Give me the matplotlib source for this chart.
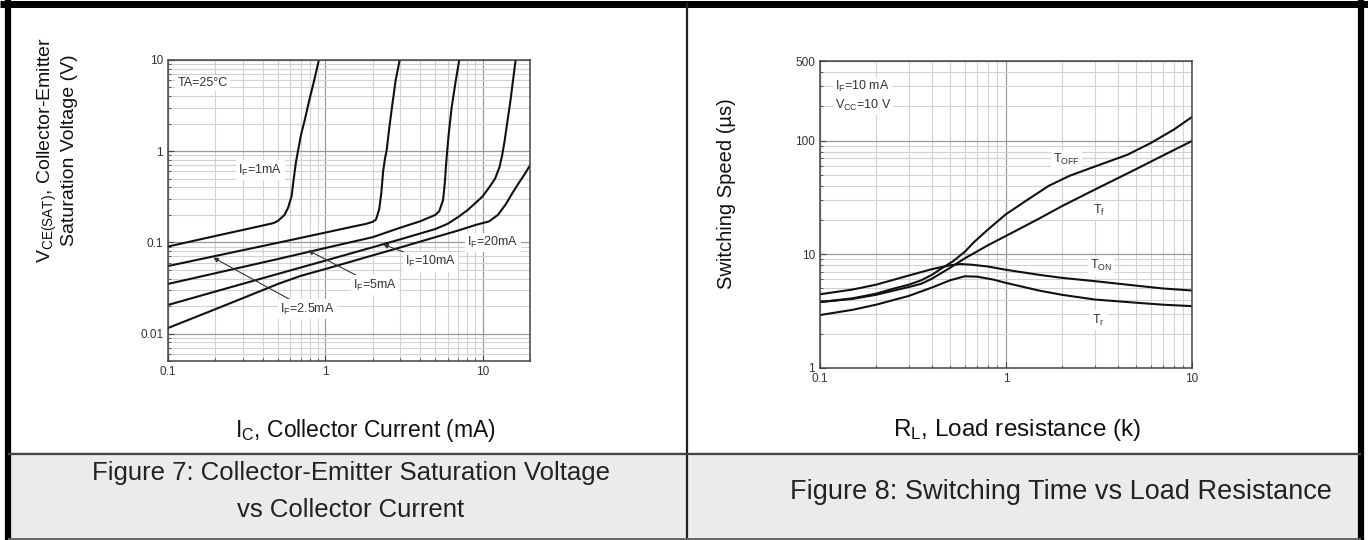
import matplotlib
matplotlib.use("Agg")
import matplotlib.pyplot as plt
from matplotlib.lines import Line2D
from matplotlib.patches import Rectangle
from matplotlib.ticker import LogLocator, NullFormatter, FixedLocator, FixedFormatter

plt.rcParams['font.family'] = ['Liberation Sans', 'DejaVu Sans']
plt.rcParams['mathtext.default'] = 'regular'

# ---- Figure 7: Vce(sat) vs Ic ----
ic_1 = [0.1, 0.2, 0.3, 0.4, 0.47, 0.5, 0.55, 0.58, 0.61, 0.63, 0.65, 0.67, 0.70, 0.74, 0.79, 0.85, 0.91]
vce_1 = [0.09, 0.1175, 0.137, 0.153, 0.163, 0.172, 0.2, 0.24, 0.32, 0.5, 0.75, 1.0, 1.5, 2.2, 3.6, 6.0, 10.0]

ic_25 = [0.1, 0.2, 0.5, 1.0, 1.5, 1.8, 2.0, 2.1, 2.2, 2.27, 2.33, 2.4, 2.45, 2.55, 2.65, 2.8, 2.97]
vce_25 = [0.055, 0.0709, 0.099, 0.128, 0.149, 0.159, 0.168, 0.178, 0.23, 0.35, 0.6, 0.85, 1.0, 1.8, 3.0, 6.0, 10.0]

ic_5 = [0.1, 0.2, 0.5, 1.0, 2.0, 3.0, 4.0, 5.0, 5.3, 5.6, 5.75, 5.85, 5.95, 6.1, 6.35, 6.7, 7.1]
vce_5 = [0.035, 0.0459, 0.0657, 0.0867, 0.114, 0.145, 0.17, 0.2, 0.22, 0.29, 0.45, 0.7, 1.0, 1.6, 3.0, 5.5, 10.0]

ic_10 = [0.1, 0.2, 0.5, 1.0, 2.0, 3.0, 4.0, 5.0, 6.0, 7.0, 8.0, 9.0, 10.0, 11.0, 12.0, 12.8, 13.3, 13.8, 14.3, 15.0, 15.6, 16.2]
vce_10 = [0.0206, 0.0289, 0.0451, 0.0631, 0.0884, 0.108, 0.125, 0.14, 0.16, 0.19, 0.225, 0.27, 0.32, 0.4, 0.5, 0.67, 0.9, 1.3, 2.0, 3.5, 6.0, 10.0]

ic_20 = [0.1, 0.2, 0.3, 0.5, 0.7, 1.0, 2.0, 3.0, 5.0, 7.0, 9.0, 11.0, 12.5, 14.0, 15.5, 17.0, 18.5, 20.0]
vce_20 = [0.0115, 0.0185, 0.0245, 0.035, 0.043, 0.051, 0.072, 0.088, 0.114, 0.135, 0.155, 0.17, 0.2, 0.26, 0.35, 0.45, 0.56, 0.70]

left_xticks = [0.1, 1, 10]
left_xlabels = ['0.1', '1', '10']
left_yticks = [0.01, 0.1, 1, 10]
left_ylabels = ['0.01', '0.1', '1', '10']

# ---- Figure 8: switching time vs RL ----
rl_off = [0.1, 0.15, 0.2, 0.25, 0.3, 0.35, 0.4, 0.45, 0.52, 0.6, 0.67, 0.8, 1.0, 1.3, 1.7, 2.2, 3.0, 4.5, 6.0, 8.0, 10.0]
t_off = [3.8, 4.1, 4.5, 5.0, 5.4, 5.9, 6.6, 7.5, 8.7, 10.5, 12.7, 16.5, 22.5, 30, 40, 49, 59, 75, 95, 125, 161]

rl_f = [0.1, 0.15, 0.2, 0.25, 0.3, 0.35, 0.4, 0.5, 0.6, 0.7, 0.8, 1.0, 1.5, 2.0, 3.0, 5.0, 7.0, 10.0]
t_f = [3.8, 4.05, 4.4, 4.8, 5.15, 5.5, 6.1, 7.6, 9.2, 10.6, 12.0, 14.5, 20.5, 26.5, 37, 56, 74, 99]

rl_on = [0.1, 0.15, 0.2, 0.3, 0.4, 0.5, 0.57, 0.65, 0.8, 1.0, 1.5, 2.0, 3.0, 5.0, 7.0, 10.0]
t_on = [4.45, 4.9, 5.4, 6.5, 7.4, 8.0, 8.2, 8.1, 7.8, 7.3, 6.6, 6.2, 5.8, 5.3, 5.0, 4.8]

rl_r = [0.1, 0.15, 0.2, 0.3, 0.4, 0.5, 0.6, 0.7, 0.85, 1.0, 1.5, 2.0, 3.0, 5.0, 7.0, 10.0]
t_r = [2.92, 3.25, 3.6, 4.3, 5.1, 5.9, 6.4, 6.35, 6.0, 5.6, 4.8, 4.4, 4.0, 3.75, 3.6, 3.5]

right_xticks = [0.1, 1, 10]
right_xlabels = ['0.1', '1', '10']
right_yticks = [1, 10, 100, 500]
right_ylabels = ['1', '10', '100', '500']

W, H = 1368, 540
fig = plt.figure(figsize=(W / 100, H / 100), dpi=100)

# table frame
fig.patches.append(Rectangle((8 / W, 2 / H), 1352 / W, (540 - 454) / H, transform=fig.transFigure,
                             facecolor='#ebebeb', edgecolor='none', zorder=0))
def fline(x0, y0, x1, y1, lw, color):
    fig.add_artist(Line2D([x0 / W, x1 / W], [1 - y0 / H, 1 - y1 / H], lw=lw, color=color,
                          transform=fig.transFigure, solid_capstyle='butt'))
fline(0, 3.5, W, 3.5, 5.0, 'black')
fline(8, 0, 8, H, 4.5, 'black')
fline(1361, 0, 1361, H, 4.5, 'black')
fline(687, 3, 687, H, 1.6, '#222222')
fline(8, 453.5, 1361, 453.5, 1.6, '#444444')
fline(8, 538.5, 1361, 538.5, 1.4, '#666666')


def style_axes(ax):
    ax.set_xscale('log')
    ax.set_yscale('log')
    for s in ax.spines.values():
        s.set_color('#444444')
        s.set_linewidth(1.1)
    ax.grid(True, which='major', color='#9a9a9a', lw=0.9)
    ax.grid(True, which='minor', color='#d2d2d2', lw=0.8)
    ax.xaxis.set_minor_locator(LogLocator(base=10, subs=range(2, 10)))
    ax.yaxis.set_minor_locator(LogLocator(base=10, subs=range(2, 10)))
    ax.xaxis.set_minor_formatter(NullFormatter())
    ax.yaxis.set_minor_formatter(NullFormatter())
    ax.tick_params(which='both', direction='in', colors='#444444', labelsize=8.5, labelcolor='#333333')
    ax.tick_params(which='major', length=4, width=0.8)
    ax.tick_params(which='minor', length=2.5, width=0.6)
    ax.set_axisbelow(True)


lab = dict(fontsize=9, color='#333333', bbox=dict(fc='white', ec='none', pad=1.5))
arw = dict(arrowstyle='-|>', lw=0.8, color='#333333', mutation_scale=7, shrinkA=0, shrinkB=0)

# ---- left chart ----
ax1 = fig.add_axes([168 / W, 1 - 361 / H, 362 / W, 301 / H])
style_axes(ax1)
for xs, ys in [(ic_1, vce_1), (ic_25, vce_25), (ic_5, vce_5), (ic_10, vce_10), (ic_20, vce_20)]:
    ax1.plot(xs, ys, color='#111111', lw=1.5)
ax1.set_xlim(0.1, 20)
ax1.set_ylim(0.005, 10)
ax1.xaxis.set_major_locator(FixedLocator(left_xticks))
ax1.xaxis.set_major_formatter(FixedFormatter(left_xlabels))
ax1.yaxis.set_major_locator(FixedLocator(left_yticks))
ax1.yaxis.set_major_formatter(FixedFormatter(left_ylabels))
ax1.text(0.115, 5.6, 'TA=25°C', va='center', ha='left', **lab)
ax1.text(0.28, 0.62, 'I$_F$=1mA', va='center', ha='left', **lab)
ax1.text(8.0, 0.1, 'I$_F$=20mA', va='center', ha='left', **lab)
ax1.annotate('I$_F$=10mA', xy=(2.33, 0.095), xytext=(3.2, 0.061), va='center', ha='left',
             arrowprops=arw, **lab)
ax1.annotate('I$_F$=5mA', xy=(0.778, 0.0817), xytext=(1.5, 0.034), va='center', ha='left',
             arrowprops=arw, **lab)
ax1.annotate('I$_F$=2.5mA', xy=(0.194, 0.068), xytext=(0.514, 0.0186), va='center', ha='left',
             arrowprops=arw, **lab)

# ---- right chart ----
ax2 = fig.add_axes([820 / W, 1 - 368 / H, 372 / W, 307 / H])
style_axes(ax2)
for xs, ys in [(rl_off, t_off), (rl_f, t_f), (rl_on, t_on), (rl_r, t_r)]:
    ax2.plot(xs, ys, color='#111111', lw=1.5)
ax2.set_xlim(0.1, 10)
ax2.set_ylim(1, 500)
ax2.xaxis.set_major_locator(FixedLocator(right_xticks))
ax2.xaxis.set_major_formatter(FixedFormatter(right_xlabels))
ax2.yaxis.set_major_locator(FixedLocator(right_yticks))
ax2.yaxis.set_major_formatter(FixedFormatter(right_ylabels))
ax2.text(0.12, 300, 'I$_F$=10 mA', va='center', ha='left', **lab)
ax2.text(0.12, 205, 'V$_{CC}$=10 V', va='center', ha='left', **lab)
ax2.text(1.79, 68, 'T$_{OFF}$', va='center', ha='left', **lab)
ax2.text(2.94, 24.3, 'T$_f$', va='center', ha='left', **lab)
ax2.text(2.83, 7.9, 'T$_{ON}$', va='center', ha='left', **lab)
ax2.text(2.9, 2.64, 'T$_r$', va='center', ha='left', **lab)

# ---- axis titles and captions ----
fig.text(57 / W, 1 - 150 / H, 'V$_{CE(SAT)}$, Collector-Emitter\nSaturation Voltage (V)', rotation=90,
         ha='center', va='center', multialignment='center', fontsize=14, color='#111111')
fig.text(365 / W, 1 - 430 / H, 'I$_C$, Collector Current (mA)', ha='center', va='center',
         fontsize=16.5, color='#111111')
fig.text(727 / W, 1 - 194 / H, 'Switching Speed (µs)', rotation=90, ha='center', va='center',
         fontsize=14.5, color='#111111')
fig.text(1017 / W, 1 - 430 / H, 'R$_L$, Load resistance (k)', ha='center', va='center',
         fontsize=17.5, color='#111111')

fig.text(351 / W, 1 - 491.5 / H, 'Figure 7: Collector-Emitter Saturation Voltage\nvs Collector Current',
         ha='center', va='center', multialignment='center', linespacing=1.65,
         fontsize=18.5, color='#222222')
fig.text(1061 / W, 1 - 492 / H, 'Figure 8: Switching Time vs Load Resistance', ha='center', va='center',
         fontsize=19.5, color='#222222')

fig.savefig('out.png', dpi=100)
